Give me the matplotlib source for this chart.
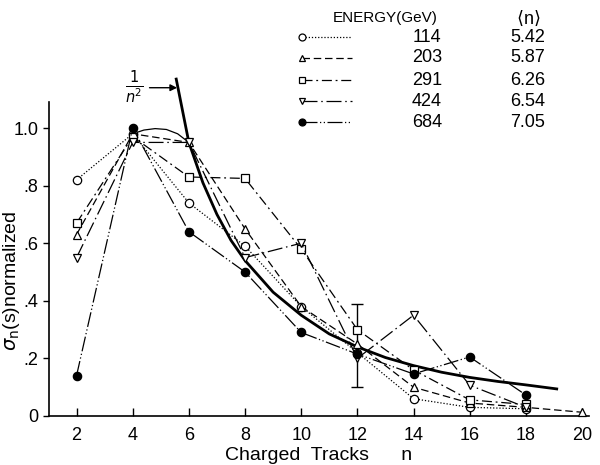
import matplotlib
matplotlib.use("Agg")
import matplotlib.pyplot as plt
from matplotlib.lines import Line2D

plt.rcParams['font.family'] = ['Liberation Sans', 'DejaVu Sans']
plt.rcParams['mathtext.fontset'] = 'dejavusans'

# -------------------------------
# Data
# -------------------------------
energies = ['114', '203', '291', '424', '684']
mean_n = ['5.42', '5.87', '6.26', '6.54', '7.05']

n_114 = [2, 4, 6, 8, 10, 12, 14, 16, 18]
s_114 = [0.82, 0.98, 0.74, 0.59, 0.38, 0.22, 0.06, 0.03, 0.025]

n_203 = [2, 4, 6, 8, 10, 12, 14, 16, 18, 20]
s_203 = [0.63, 0.98, 0.95, 0.65, 0.38, 0.25, 0.10, 0.045, 0.03, 0.013]

n_291 = [2, 4, 6, 8, 10, 12, 14, 16, 18]
s_291 = [0.67, 0.97, 0.83, 0.825, 0.58, 0.30, 0.16, 0.056, 0.04]

n_424 = [2, 4, 6, 8, 10, 12, 14, 16, 18]
s_424 = [0.55, 0.95, 0.95, 0.55, 0.60, 0.20, 0.35, 0.107, 0.03]

n_684 = [2, 4, 6, 8, 10, 12, 14, 16, 18]
s_684 = [0.14, 1.0, 0.64, 0.50, 0.29, 0.215, 0.146, 0.205, 0.073]

# thin hand-drawn arc over the peak
peak_x = [4, 4.4, 4.8, 5.2, 5.6, 6]
peak_y = [0.98, 0.993, 0.998, 0.995, 0.98, 0.95]

# thick 1/n^2 curve
tail_x = [5.55, 6, 6.5, 7, 7.5, 8, 9, 10, 11, 12, 13, 14, 15, 16, 17, 18, 19.1]
tail_y = [1.17, 0.95, 0.81, 0.70, 0.61, 0.54, 0.43, 0.35, 0.285, 0.24, 0.203, 0.175, 0.152, 0.134, 0.12, 0.108, 0.094]

# error bar at n = 12
err_n = 12
err_mid = 0.245
err_half = 0.145

series = [
    (n_114, s_114, 'o', 'white', (0, (1, 1.5))),
    (n_203, s_203, '^', 'white', (0, (6, 3))),
    (n_291, s_291, 's', 'white', (0, (8, 3, 1.5, 3))),
    (n_424, s_424, 'v', 'white', (0, (12, 3, 1.2, 3))),
    (n_684, s_684, 'o', 'black', (0, (12, 2, 1, 2, 1, 2))),
]

fig = plt.figure(figsize=(6, 4.65), dpi=100)
ax = fig.add_axes([0.0817, 0.1054, 0.9, 0.675])

for xs, ys, m, fc, ls in series:
    ax.plot(xs, ys, color='black', lw=0.9, linestyle=ls, marker=m,
            markersize=6, markerfacecolor=fc, markeredgecolor='black',
            markeredgewidth=0.9, clip_on=False, zorder=3)

ax.plot(peak_x, peak_y, color='black', lw=0.9, zorder=2)
ax.plot(tail_x, tail_y, color='black', lw=2.0, clip_on=False, zorder=2)

ax.errorbar([err_n], [err_mid], yerr=[[err_half], [err_half]], fmt='none',
            ecolor='black', elinewidth=1.0, capsize=4, capthick=1.0)

# 1/n^2 label with arrow
ax.text(4.05, 1.14, r'$\frac{1}{n^2}$', fontsize=15, ha='center', va='center')
ax.annotate('', xy=(5.68, 1.14), xytext=(4.5, 1.14),
            arrowprops=dict(arrowstyle='-|>', color='black', lw=1.0),
            annotation_clip=False)

ax.set_xlim(1.02, 20.25)
ax.set_ylim(0, 1.09)
ax.set_xticks([2, 4, 6, 8, 10, 12, 14, 16, 18, 20])
ax.set_xticklabels(['2', '4', '6', '8', '10', '12', '14', '16', '18', '20'])
ax.set_yticks([0, 0.2, 0.4, 0.6, 0.8, 1.0])
ax.set_yticklabels(['0', '.2', '.4', '.6', '.8', '1.0'])
ax.tick_params(axis='x', direction='in', length=6, width=1.0, labelsize=13, pad=8)
ax.tick_params(axis='y', direction='out', length=4, width=1.0, labelsize=13)
for side in ['top', 'right']:
    ax.spines[side].set_visible(False)
for side in ['left', 'bottom']:
    ax.spines[side].set_linewidth(1.2)

ax.set_xlabel('Charged  Tracks      n', fontsize=14, labelpad=2)
ax.set_ylabel(r'$\sigma_{\rm n}$(s)normalized', fontsize=14)
ax.yaxis.set_label_coords(-0.05, 0.43)

# table-style legend at top
fig.text(385 / 600, 1 - 18 / 465, 'ENERGY(GeV)', fontsize=11, ha='center', va='center')
fig.text(528 / 600, 1 - 18 / 465, r'$\langle$n$\rangle$', fontsize=13, ha='center', va='center')
row_y = [37, 58, 80, 101, 122]
for (xs, ys, m, fc, ls), e, mn, ry in zip(series, energies, mean_n, row_y):
    yy = 1 - ry / 465
    fig.add_artist(Line2D([302 / 600, 352 / 600], [yy, yy], color='black', lw=0.9,
                          linestyle=ls, marker=m, markevery=[0], markersize=5,
                          markerfacecolor=fc, markeredgecolor='black',
                          markeredgewidth=0.9))
    fig.text(427 / 600, yy, e, fontsize=13, ha='center', va='center')
    fig.text(528 / 600, yy, mn, fontsize=13, ha='center', va='center')

fig.savefig('out.png', dpi=100)
